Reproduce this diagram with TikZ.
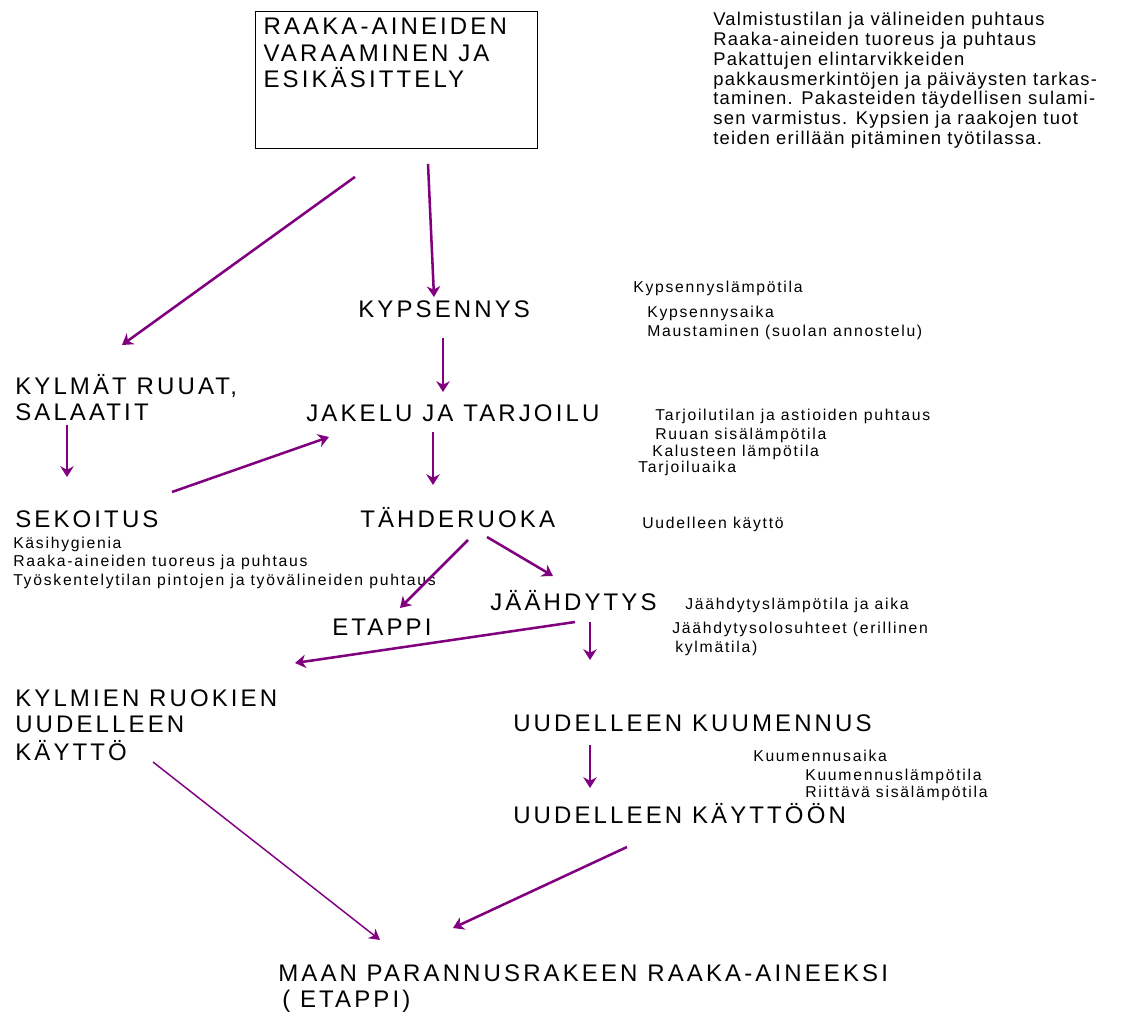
\documentclass[tikz,border=0pt]{standalone}
\usepackage{fontspec}
\usetikzlibrary{arrows.meta}
\setmainfont{Liberation Sans}
\newfontfamily\bigfam[LetterSpace=13]{Liberation Sans}
\newfontfamily\notefam[LetterSpace=11]{Liberation Sans}
\newfontfamily\topfam[LetterSpace=7]{Liberation Sans}
\definecolor{flowpurple}{RGB}{128,0,128}
% left-aligned block of lines whose baseline is the first line
\newcommand\linesblock[1]{\begin{tabular}[t]{@{}l@{}}#1\end{tabular}}
\begin{document}
\begin{tikzpicture}[x=0.75pt,y=-0.75pt,
  stage/.style={font=\bigfam\fontsize{18pt}{19.9pt}\selectfont, anchor=base west, inner sep=0pt},
  note/.style={font=\notefam\fontsize{11.8pt}{13.9pt}\selectfont, anchor=base west, inner sep=0pt},
  topnote/.style={font=\topfam\fontsize{13.8pt}{14.8pt}\selectfont, anchor=base west, inner sep=0pt},
  flow/.style={draw=flowpurple, line width=1.9pt, -{Stealth[length=8pt,width=10pt,inset=2.5pt]}},
  thinflow/.style={draw=flowpurple, line width=1.1pt, -{Stealth[length=8pt,width=9pt,inset=2.5pt]}}]
\useasboundingbox (0,0) rectangle (1123,1012);

% first stage in a frame
\node[draw, line width=0.9pt, anchor=north west, inner xsep=6pt, inner ysep=5pt,
      font=\bigfam\fontsize{18pt}{19.9pt}\selectfont] (raaka) at (255,11)
  {\parbox[t][92.5pt][t]{199.5pt}{RAAKA-AINEIDEN\\VARAAMINEN JA\\ESIKÄSITTELY}};

\node[topnote] (hyg) at (713,26) {\linesblock{Valmistustilan ja välineiden puhtaus\\
  Raaka-aineiden tuoreus ja puhtaus\\
  Pakattujen elintarvikkeiden\\
  pakkausmerkintöjen ja päiväysten tarkas-\\
  taminen. Pakasteiden täydellisen sulami-\\
  sen varmistus. Kypsien ja raakojen tuot\\
  teiden erillään pitäminen työtilassa.}};

% stages
\node[stage] (kyps) at (358,317) {KYPSENNYS};
\node[stage] (kylmat) at (15,394) {\linesblock{KYLMÄT RUUAT,\\SALAATIT}};
\node[stage] (jakelu) at (306,421) {JAKELU JA TARJOILU};
\node[stage] (sekoitus) at (15,527) {SEKOITUS};
\node[stage] (tahde) at (360,527) {TÄHDERUOKA};
\node[stage] (jaahd) at (490,610) {JÄÄHDYTYS};
\node[stage] (etappi) at (332,635) {ETAPPI};
\node[stage] (kylmien) at (15,706) {\linesblock{KYLMIEN RUOKIEN\\UUDELLEEN\\KÄYTTÖ}};
\node[stage] (kuumennus) at (513,731) {UUDELLEEN KUUMENNUS};
\node[stage] (kayttoon) at (513,823) {UUDELLEEN KÄYTTÖÖN};
\node[stage] (maan) at (278,981) {\linesblock{MAAN PARANNUSRAKEEN RAAKA-AINEEKSI\\\hspace{3pt}( ETAPPI)}};

% control points beside the stages
\node[note] (k1) at (633,292) {Kypsennyslämpötila};
\node[note] (k2) at (647,318) {Kypsennysaika};
\node[note] (k3) at (647,336) {Maustaminen (suolan annostelu)};
\node[note] (t1) at (655,420) {Tarjoilutilan ja astioiden puhtaus};
\node[note] (t2) at (655,439) {Ruuan sisälämpötila};
\node[note] (t3) at (652,456) {Kalusteen lämpötila};
\node[note] (t4) at (638,472) {Tarjoiluaika};
\node[note] (u1) at (642,528) {Uudelleen käyttö};
\node[note] (s1) at (13,548) {\linesblock{Käsihygienia\\Raaka-aineiden tuoreus ja puhtaus\\Työskentelytilan pintojen ja työvälineiden puhtaus}};
\node[note] (j1) at (685,609) {Jäähdytyslämpötila ja aika};
\node[note] (j2) at (672,633) {Jäähdytysolosuhteet (erillinen};
\node[note] (j3) at (675,652) {kylmätila)};
\node[note] (h1) at (753,761) {Kuumennusaika};
\node[note] (h2) at (805,780) {Kuumennuslämpötila};
\node[note] (h3) at (805,797) {Riittävä sisälämpötila};

% flow arrows
\draw[flow] ([shift={(100,28)}]raaka.south west) -- ([shift={(107,-49)}]kylmat.base west);
\draw[flow] ([shift={(173,15)}]raaka.south west) -- ([shift={(76,-20)}]kyps.base west);
\draw[flow] ([shift={(85,21)}]kyps.base west) -- ([shift={(85,-29)}]jakelu.base west -| kyps.base west);
\draw[flow] ([shift={(127,11)}]jakelu.base west) -- ([shift={(73,-42)}]tahde.base west);
\draw[flow] ([shift={(52,31)}]kylmat.base west) -- ([shift={(52,-50)}]sekoitus.base west);
\draw[flow] ([shift={(157,-35)}]sekoitus.base west) -- ([shift={(23,16)}]jakelu.base west);
\draw[flow] ([shift={(108,13)}]tahde.base west) -- ([shift={(68,-27)}]etappi.base west);
\draw[flow] ([shift={(127,10)}]tahde.base west) -- ([shift={(63,-34)}]jaahd.base west);
\draw[flow] ([shift={(85,12)}]jaahd.base west) -- ([shift={(280,-43)}]kylmien.base west);
\draw[flow] ([shift={(100,12)}]jaahd.base west) -- ([shift={(77,-71)}]kuumennus.base west);
\draw[flow] ([shift={(77,14)}]kuumennus.base west) -- ([shift={(77,-35)}]kayttoon.base west);
\draw[thinflow] ([shift={(138,56)}]kylmien.base west) -- ([shift={(102,-41)}]maan.base west);
\draw[flow] ([shift={(114,24)}]kayttoon.base west) -- ([shift={(175,-53)}]maan.base west);
\end{tikzpicture}
\end{document}
